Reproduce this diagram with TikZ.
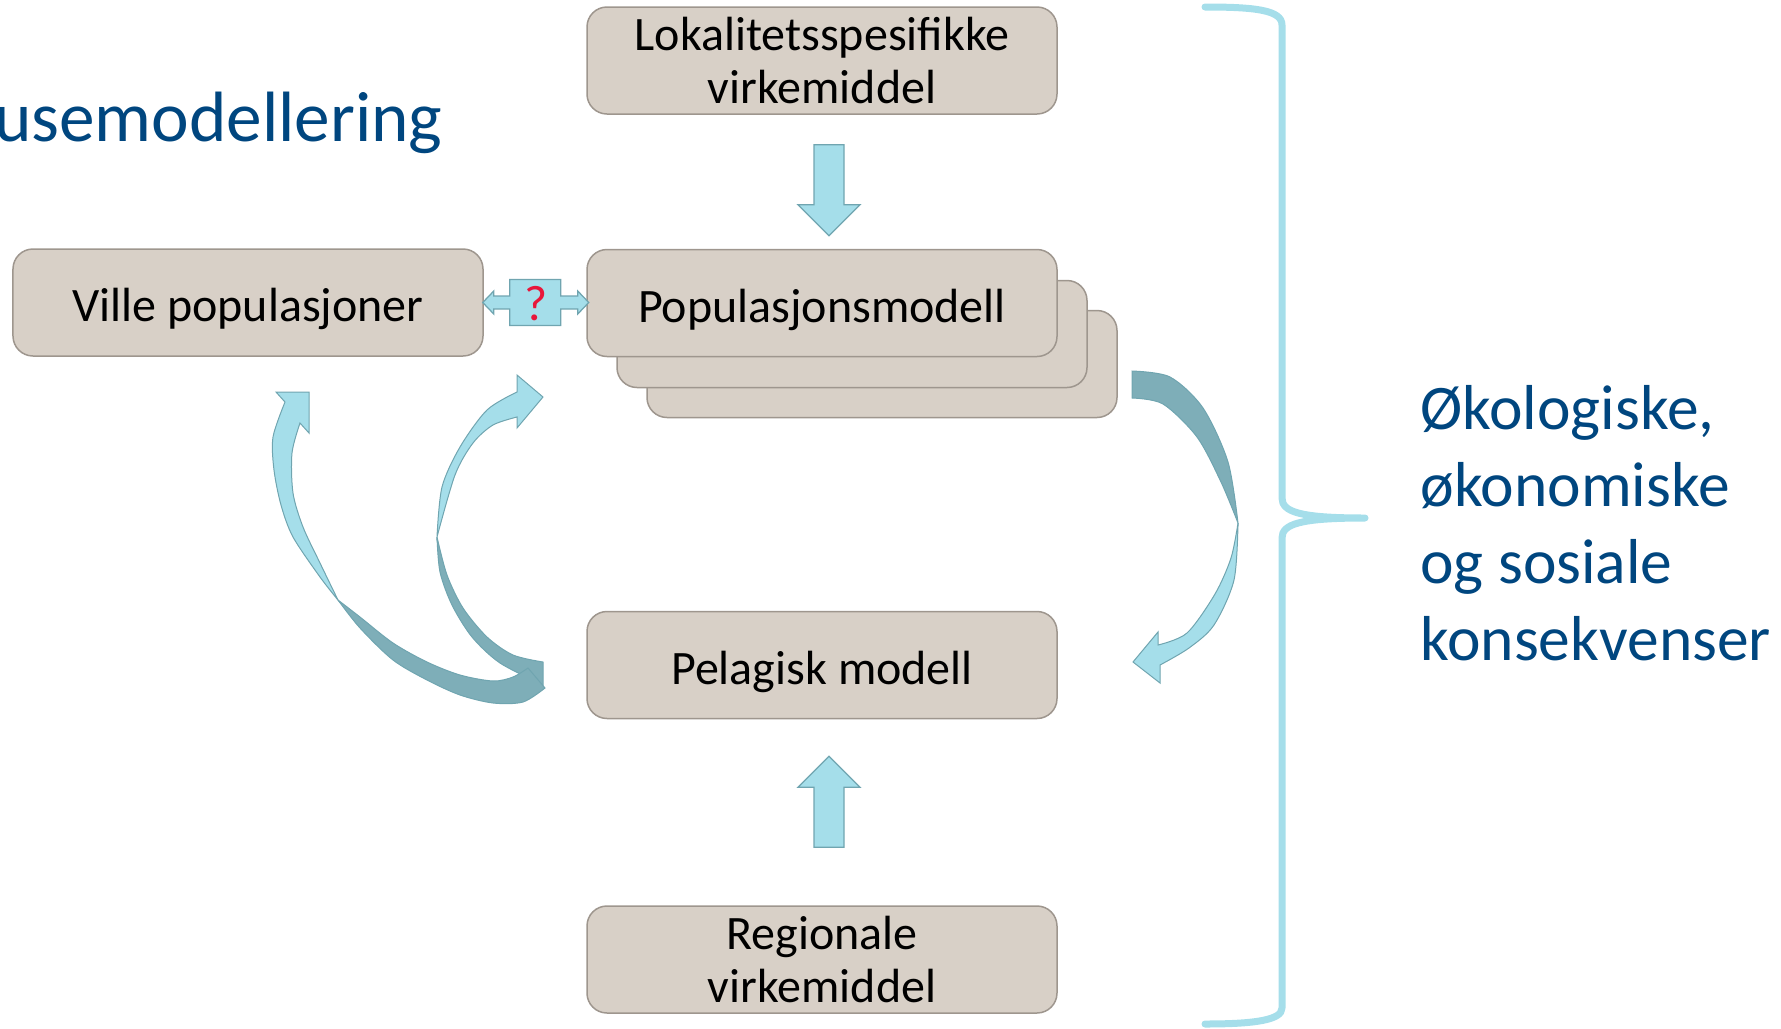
\documentclass[tikz,border=0pt]{standalone}
\usepackage{fontspec}
\setmainfont{Carlito}
\usetikzlibrary{calc}

\definecolor{boxfill}{RGB}{216,208,199}
\definecolor{boxline}{RGB}{158,150,142}
\definecolor{arrlight}{RGB}{165,222,234}
\definecolor{arrdark}{RGB}{126,174,184}
\definecolor{arrline}{RGB}{112,165,176}
\definecolor{titleblue}{RGB}{0,70,127}
\definecolor{qred}{RGB}{232,22,58}

\tikzset{
  modelbox/.style={draw=boxline, fill=boxfill, line width=0.6pt, rounded corners=8pt,
    minimum width=188pt, minimum height=42.8pt, align=center, inner sep=0pt,
    font=\fontsize{19.2}{21}\selectfont, execute at begin node={\rule{0pt}{18.5pt}}},
  blockarr/.style={draw=arrline, fill=arrlight, line width=0.5pt},
  darkpart/.style={draw=arrline, fill=arrdark, line width=0.4pt},
  lightpart/.style={draw=arrline, fill=arrlight, line width=0.4pt},
  bracket/.style={draw=arrlight, line width=2.8pt, line cap=round, line join=round},
}

\begin{document}
\begin{tikzpicture}[x=0.4pt, y=-0.4pt]
\useasboundingbox (0,0) rectangle (1781,1028);

\node[anchor=base east, inner sep=0pt, text=titleblue, font=\fontsize{28.5}{34}\selectfont] (title) at (443,141) {usemodellering};

% model boxes
\node[modelbox] (lok) at (822,60.5) {Lokalitetsspesifikke\\virkemiddel};
\node[modelbox] (pop3) at (882,364) {};
\node[modelbox] (pop2) at (852,334) {};
\node[modelbox] (pop) at (822,303) {Populasjonsmodell};
\node[modelbox] (ville) at (248,302.5) {Ville populasjoner};
\node[modelbox] (pel) at (822,665) {Pelagisk modell};
\node[modelbox] (reg) at (822,959.5) {Regionale\\virkemiddel};

% straight block arrows
\draw[blockarr] ($(lok.south)+(-8,30)$) -- ++(30,0) -- ++(0,60) -- ++(16,0)
  -- ++(-31,31) -- ++(-31,-31) -- ++(16,0) -- cycle;
\draw[blockarr] ($(reg.north)+(-8,-58)$) -- ++(30,0) -- ++(0,-60) -- ++(16,0)
  -- ++(-31,-31) -- ++(-31,31) -- ++(16,0) -- cycle;

% double arrow with question mark
\draw[blockarr] ($(ville.east)+(-1,0)$) -- ++(11,-11.5) -- ++(0,5) -- ++(16,0) -- ++(0,-16.5)
  -- ++(51,0) -- ++(0,16.5) -- ++(17,0) -- ++(0,-5) -- ++(11,11.5) -- ++(-11,11.5)
  -- ++(0,-5) -- ++(-17,0) -- ++(0,16.5) -- ++(-51,0) -- ++(0,-16.5) -- ++(-16,0)
  -- ++(0,5) -- cycle;
\node[text=qred, inner sep=0pt, font=\fontsize{20}{24}\selectfont] (q) at ($(ville.east)+(52,1)$) {?};

% curved arrow, stack to pelagisk
\filldraw[darkpart] plot[smooth] coordinates {(1132,371) (1170,377) (1203,408) (1228,462) (1238,523)}
  -- plot[smooth] coordinates {(1238,523) (1221,482) (1197,437) (1163,404) (1132,398)} -- cycle;
\filldraw[lightpart] plot[smooth] coordinates {(1238,523) (1234,580) (1214,625) (1189,648) (1160,665)}
  -- (1160,683) -- (1133,662) -- (1158,632)
  -- plot[smooth] coordinates {(1158,645) (1187,633) (1215,594) (1231,558) (1238,523)} -- cycle;

% curved arrow, pelagisk to populasjonsmodell
\filldraw[darkpart] plot[smooth] coordinates {(437,537) (440,572) (452,605) (472,637) (500,663) (543,685)}
  -- plot[smooth] coordinates {(543,662) (513,655) (487,637) (463,608) (447,575) (437,537)} -- cycle;
\filldraw[lightpart] plot[smooth] coordinates {(437,537) (442,487) (460,447) (487,410) (517,392)}
  -- (517,375) -- (543,397) -- (517,428)
  -- plot[smooth] coordinates {(517,417) (493,425) (473,443) (455,475) (437,537)} -- cycle;

% curved arrow, pelagisk to ville populasjoner
\filldraw[lightpart] plot[smooth] coordinates {(338,600) (320,577) (293,537) (281,505) (274,470) (273,437) (285,402)}
  -- (276,392) -- (309,392) -- (309,433)
  -- plot[smooth] coordinates {(300,423) (292,453) (293,493) (303,527) (320,563) (338,600)} -- cycle;
\filldraw[darkpart] plot[smooth] coordinates {(338,600) (360,628) (393,660) (427,680) (460,695) (493,703) (523,702) (545,688)}
  -- plot[smooth] coordinates {(528,668) (513,677) (493,681) (460,675) (427,662) (393,643) (360,617) (338,600)} -- cycle;

% brace
\draw[bracket] (1205,7) .. controls (1255,7) and (1282,10) .. (1282,25) -- (1282,498)
  .. controls (1282,512) and (1300,518) .. (1365,518)
  .. controls (1300,518) and (1282,524) .. (1282,538) -- (1282,1008)
  .. controls (1282,1020) and (1255,1024) .. (1205,1024);

\node[anchor=north west, inner sep=0pt, align=left, text=titleblue,
  font=\fontsize{25.4}{30.8}\selectfont] (cons) at (1420,385)
  {Økologiske,\\økonomiske\\og sosiale\\konsekvenser};
\end{tikzpicture}
\end{document}
